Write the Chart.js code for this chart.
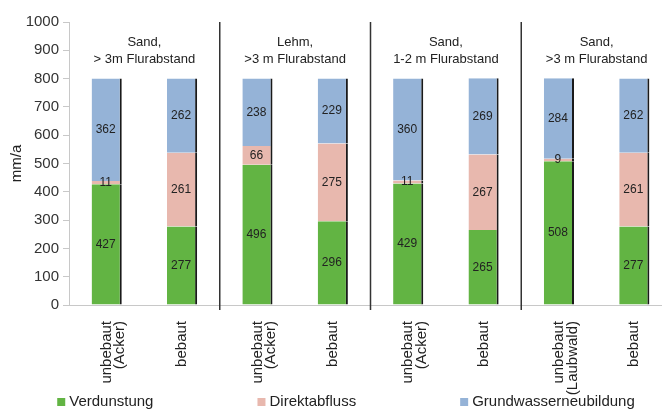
<!DOCTYPE html>
<html lang="de">
<head>
  <meta charset="UTF-8" />
  <title>Wasserhaushalt</title>
  <script src="https://cdn.jsdelivr.net/npm/chart.js"></script>
  <style>
    html, body {
      margin: 0;
      padding: 0;
      background: #fff;
      overflow: hidden;
    }
    .wrap {
      width: 680px;
      height: 410px;
    }
  </style>
</head>
<body>
  <div class="wrap"><canvas id="chart" width="680" height="410"></canvas></div>
  <script>
    const categories = [
      ['unbebaut', '(Acker)'], 'bebaut',
      ['unbebaut', '(Acker)'], 'bebaut',
      ['unbebaut', '(Acker)'], 'bebaut',
      ['unbebaut', '(Laubwald)'], 'bebaut'
    ];
    const verdunstung = [427, 277, 496, 296, 429, 265, 508, 277];
    const direktabfluss = [11, 261, 66, 275, 11, 267, 9, 261];
    const grundwasser = [362, 262, 238, 229, 360, 269, 284, 262];
    const groupTitles = [
      ['Sand,', '> 3m Flurabstand'],
      ['Lehm,', '>3 m Flurabstand'],
      ['Sand,', '1-2 m Flurabstand'],
      ['Sand,', '>3 m Flurabstand']
    ];
    const yTicks = [0, 100, 200, 300, 400, 500, 600, 700, 800, 900, 1000];

    const FONT = '"Liberation Sans", Arial, sans-serif';

    // Zahlen mittig in die Segmente schreiben
    const valueLabels = {
      id: 'valueLabels',
      afterDatasetsDraw(chart) {
        const ctx = chart.ctx;
        ctx.save();
        ctx.font = '12px ' + FONT;
        ctx.fillStyle = '#222';
        ctx.textAlign = 'center';
        ctx.textBaseline = 'middle';
        chart.data.datasets.forEach((ds, i) => {
          chart.getDatasetMeta(i).data.forEach((bar, j) => {
            ctx.fillText(String(ds.data[j]), bar.x - 1, (bar.y + bar.base) / 2);
          });
        });
        ctx.restore();
      }
    };

    // Trennlinien und Gruppenüberschriften
    const groups = {
      id: 'groups',
      afterDraw(chart) {
        const ctx = chart.ctx;
        const x = chart.scales.x;
        const area = chart.chartArea;
        ctx.save();
        ctx.strokeStyle = '#333';
        ctx.lineWidth = 1.5;
        for (let g = 1; g < groupTitles.length; g++) {
          const sx = (x.getPixelForValue(2 * g - 1) + x.getPixelForValue(2 * g)) / 2;
          ctx.beginPath();
          ctx.moveTo(sx, area.top);
          ctx.lineTo(sx, area.bottom + 5);
          ctx.stroke();
        }
        ctx.font = '13px ' + FONT;
        ctx.fillStyle = '#222';
        ctx.textAlign = 'center';
        ctx.textBaseline = 'middle';
        groupTitles.forEach((lines, g) => {
          const cx = (x.getPixelForValue(2 * g) + x.getPixelForValue(2 * g + 1)) / 2;
          lines.forEach((t, k) => ctx.fillText(t, cx, area.top + 20 + k * 17));
        });
        ctx.restore();
      }
    };

    // Legende im Excel-Stil mit großen Abständen
    const wideLegend = {
      id: 'wideLegend',
      afterDraw(chart) {
        const ctx = chart.ctx;
        const gap = 104, box = 8, boxGap = 4;
        ctx.save();
        ctx.font = '15px ' + FONT;
        const items = chart.data.datasets.map(ds => ({
          text: ds.label, color: ds.backgroundColor, w: ctx.measureText(ds.label).width
        }));
        let total = 0;
        items.forEach((it, i) => { total += box + boxGap + it.w + (i ? gap : 0); });
        let px = 346 - total / 2;
        const py = 402;
        ctx.textBaseline = 'middle';
        ctx.textAlign = 'left';
        items.forEach(it => {
          ctx.fillStyle = it.color;
          ctx.fillRect(px, py - box / 2, box, box);
          ctx.fillStyle = '#222';
          ctx.fillText(it.text, px + box + boxGap, py);
          px += box + boxGap + it.w + gap;
        });
        ctx.restore();
      }
    };

    const barStyle = {
      borderColor: '#1a1a1a',
      borderWidth: { top: 0, right: 2, bottom: 0, left: 0 },
      borderSkipped: false,
      barPercentage: 0.4,
      categoryPercentage: 1.0
    };

    new Chart(document.getElementById('chart'), {
      type: 'bar',
      data: {
        labels: categories,
        datasets: [
          Object.assign({ label: 'Verdunstung', data: verdunstung, backgroundColor: '#62b443' }, barStyle),
          Object.assign({ label: 'Direktabfluss', data: direktabfluss, backgroundColor: '#e8b8ae' }, barStyle),
          Object.assign({ label: 'Grundwasserneubildung', data: grundwasser, backgroundColor: '#95b3d7' }, barStyle)
        ]
      },
      options: {
        responsive: false,
        animation: false,
        layout: { padding: { top: 22, right: 8, bottom: 0, left: 0 } },
        plugins: {
          legend: { display: false },
          tooltip: { enabled: false }
        },
        scales: {
          x: {
            stacked: true,
            afterFit: s => { s.height = 105; },
            grid: { display: true, drawOnChartArea: false, drawTicks: false },
            border: { display: true, color: '#c8c8c8', width: 1 },
            ticks: {
              minRotation: 90,
              maxRotation: 90,
              padding: 16,
              color: '#222',
              font: { family: FONT, size: 15, lineHeight: 0.9 }
            }
          },
          y: {
            stacked: true,
            min: 0,
            max: 1000,
            afterFit: s => { s.width = 69; },
            afterBuildTicks: s => { s.ticks = yTicks.map(v => ({ value: v })); },
            grid: { drawOnChartArea: false, drawTicks: true, tickLength: 6, color: '#c8c8c8' },
            border: { display: true, color: '#c8c8c8', width: 1 },
            ticks: {
              padding: 4,
              color: '#333',
              font: { family: FONT, size: 15 },
              callback: v => String(v)
            },
            title: {
              display: true,
              text: 'mm/a',
              color: '#222',
              font: { family: FONT, size: 15 },
              padding: { top: 8, bottom: 0 }
            }
          }
        }
      },
      plugins: [valueLabels, groups, wideLegend]
    });
  </script>
</body>
</html>
